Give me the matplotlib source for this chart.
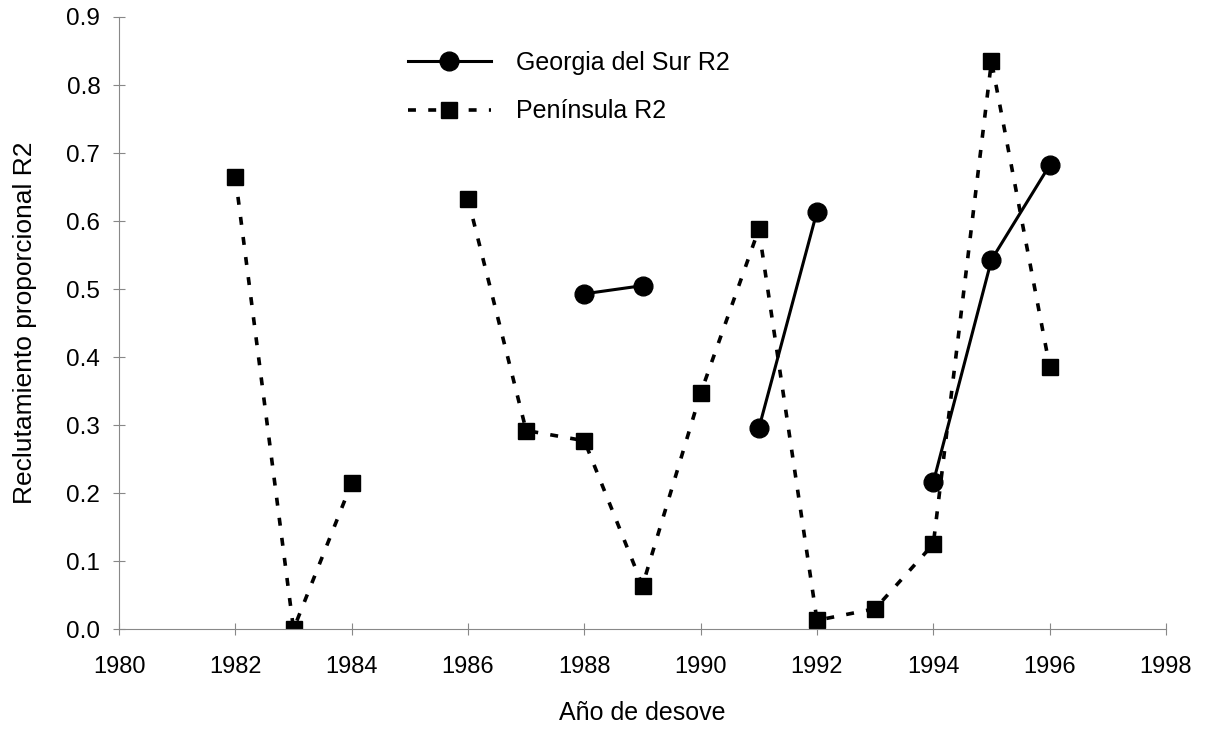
import numpy as np
import matplotlib.pyplot as plt

plt.rcParams['font.family'] = ['Liberation Sans', 'DejaVu Sans']

# Data
years = [1982, 1983, 1984, 1985, 1986, 1987, 1988, 1989, 1990,
         1991, 1992, 1993, 1994, 1995, 1996]
peninsula = [0.665, 0.000, 0.215, np.nan, 0.632, 0.292, 0.277, 0.064, 0.347,
             0.588, 0.013, 0.030, 0.125, 0.835, 0.386]
georgia = [np.nan, np.nan, np.nan, np.nan, np.nan, np.nan, 0.493, 0.505, np.nan,
           0.295, 0.614, np.nan, 0.216, 0.543, 0.682]

fig = plt.figure(figsize=(12.05, 7.29), dpi=100)
ax = fig.add_axes([0.0988, 0.137, 0.8688, 0.8397])

ax.plot(years, georgia, color='black', linewidth=2.2, marker='o',
        markersize=13.5, label='Georgia del Sur R2')
ax.plot(years, peninsula, color='black', linewidth=2.6, linestyle=(0, (2.2, 3.4)),
        marker='s', markersize=12, label='Península R2')

ax.set_xlim(1980, 1998)
ax.set_ylim(0, 0.9)
ax.set_xticks(np.arange(1980, 1999, 2))
ax.set_yticks(np.arange(0, 0.91, 0.1))
ax.set_yticklabels([f'{v:.1f}' for v in np.arange(0, 0.91, 0.1)])

for side in ['top', 'right']:
    ax.spines[side].set_visible(False)
for side in ['left', 'bottom']:
    ax.spines[side].set_color('#888888')
    ax.spines[side].set_linewidth(0.8)
ax.tick_params(axis='both', colors='#888888', labelcolor='black',
               length=8, width=0.8, direction='inout')
ax.tick_params(axis='x', labelsize=17, pad=15)
ax.tick_params(axis='y', labelsize=17.5, pad=9.5)

ax.set_xlabel('Año de desove', fontsize=18, labelpad=17)
ax.set_ylabel('Reclutamiento proporcional R2', fontsize=19, labelpad=21)

ax.legend(loc='upper left', bbox_to_anchor=(408 / 1205, 1 - 51 / 729),
          bbox_transform=fig.transFigure, frameon=False, borderpad=0,
          borderaxespad=0, fontsize=18, handlelength=3.3, labelspacing=0.98,
          handletextpad=1.0)

fig.savefig('out.png', dpi=100)
